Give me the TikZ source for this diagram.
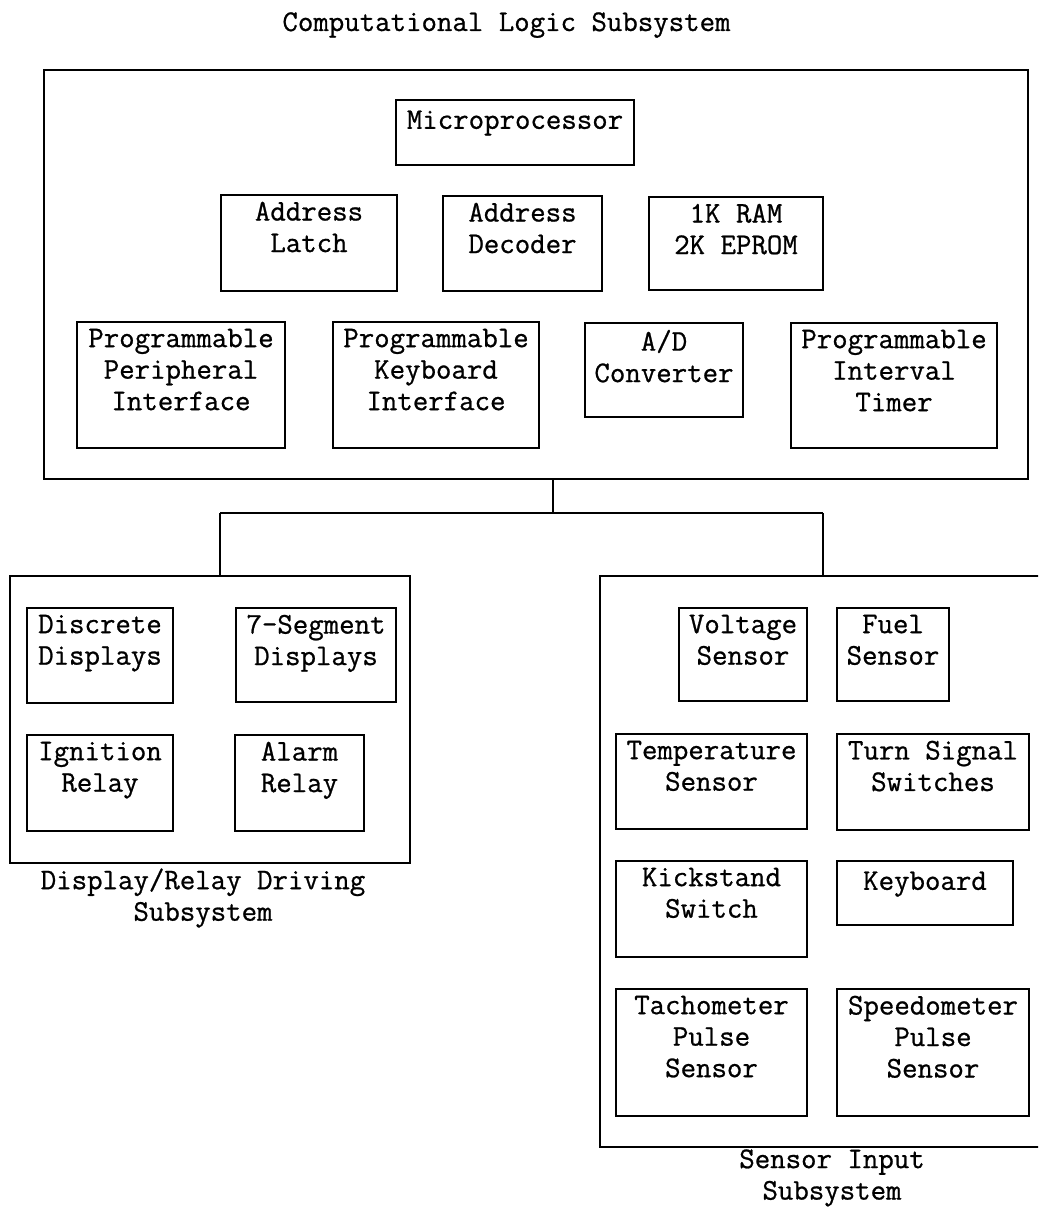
\documentclass[tikz,border=0pt]{standalone}
\usepackage{fontspec}
\setmonofont{Latin Modern Mono}[FakeBold=0.8]
\usetikzlibrary{fit}
\newcommand\txtfont{\ttfamily\bfseries\fontsize{15}{15.75}\selectfont}
\newcommand\mkbox[6]{%
  \node[blk, fit={(#2,#3) (#4,#5)}] (#1) {};
  \node[lbl] (#1-t) at (#1.north) {#6};
}
\begin{document}
\begin{tikzpicture}[x=0.5pt, y=-0.5pt,
  blk/.style={draw, line width=1.2pt, inner sep=0pt},
  lbl/.style={anchor=north, yshift=-3.8pt, inner sep=0pt, align=center, font=\txtfont, execute at begin node=\strut},
  captxt/.style={inner sep=0pt, align=center, font=\txtfont},
  wire/.style={line width=1.2pt}]
\useasboundingbox (0,0) rectangle (1038,1208);
\clip (0,0) rectangle (1038,1208);

% title
\node[captxt, anchor=base] (title) at (506.5,31) {Computational Logic Subsystem};

% computational logic subsystem
\node[blk, fit={(44,70) (1028,479)}] (cl) {};
\mkbox{mp}{396}{100}{634}{165}{Microprocessor}
\mkbox{al}{221}{195}{397}{291}{Address\\Latch}
\mkbox{ad}{443}{196}{602}{291}{Address\\Decoder}
\mkbox{mem}{649}{197}{823}{290}{1K RAM\\2K EPROM}
\mkbox{ppi}{77}{322}{285}{448}{Programmable\\Peripheral\\Interface}
\mkbox{pki}{333}{322}{539}{448}{Programmable\\Keyboard\\Interface}
\mkbox{adc}{585}{323}{743}{417}{A/D\\Converter}
\mkbox{pit}{791}{323}{997}{448}{Programmable\\Interval\\Timer}

% display / relay driving subsystem
\node[blk, fit={(10,576) (410,863)}] (disp) {};
\mkbox{dd}{27}{608}{173}{703}{Discrete\\Displays}
\mkbox{sd}{236}{608}{396}{702}{7-Segment\\Displays}
\mkbox{ir}{27}{735}{173}{831}{Ignition\\Relay}
\mkbox{ar}{235}{735}{364}{831}{Alarm\\Relay}
\node[captxt, anchor=north, execute at begin node=\strut] (dcap) at (203,868) {Display/Relay Driving\\Subsystem};

% sensor input subsystem
\node[blk, fit={(600,576) (1060,1147)}] (sens) {};
\mkbox{vs}{679}{608}{807}{701}{Voltage\\Sensor}
\mkbox{fs}{837}{608}{949}{701}{Fuel\\Sensor}
\mkbox{ts}{616}{734}{807}{829}{Temperature\\Sensor}
\mkbox{tss}{837}{734}{1029}{830}{Turn Signal\\Switches}
\mkbox{ks}{616}{861}{807}{957}{Kickstand\\Switch}
\mkbox{kb}{837}{861}{1013}{925}{Keyboard}
\mkbox{tp}{616}{989}{807}{1116}{Tachometer\\Pulse\\Sensor}
\mkbox{sp}{837}{989}{1029}{1116}{Speedometer\\Pulse\\Sensor}
\node[captxt, anchor=north, execute at begin node=\strut] (scap) at (832,1149) {Sensor Input\\Subsystem};

% connectors
\coordinate (bus) at (553,513);
\coordinate (jl) at (220,513);
\coordinate (jr) at (823,513);
\draw[wire] (cl.south -| bus) -- (bus);
\draw[wire] (jl) -- (jr);
\draw[wire] (jl) -- (jl |- disp.north);
\draw[wire] (jr) -- (jr |- sens.north);
\end{tikzpicture}
\end{document}
